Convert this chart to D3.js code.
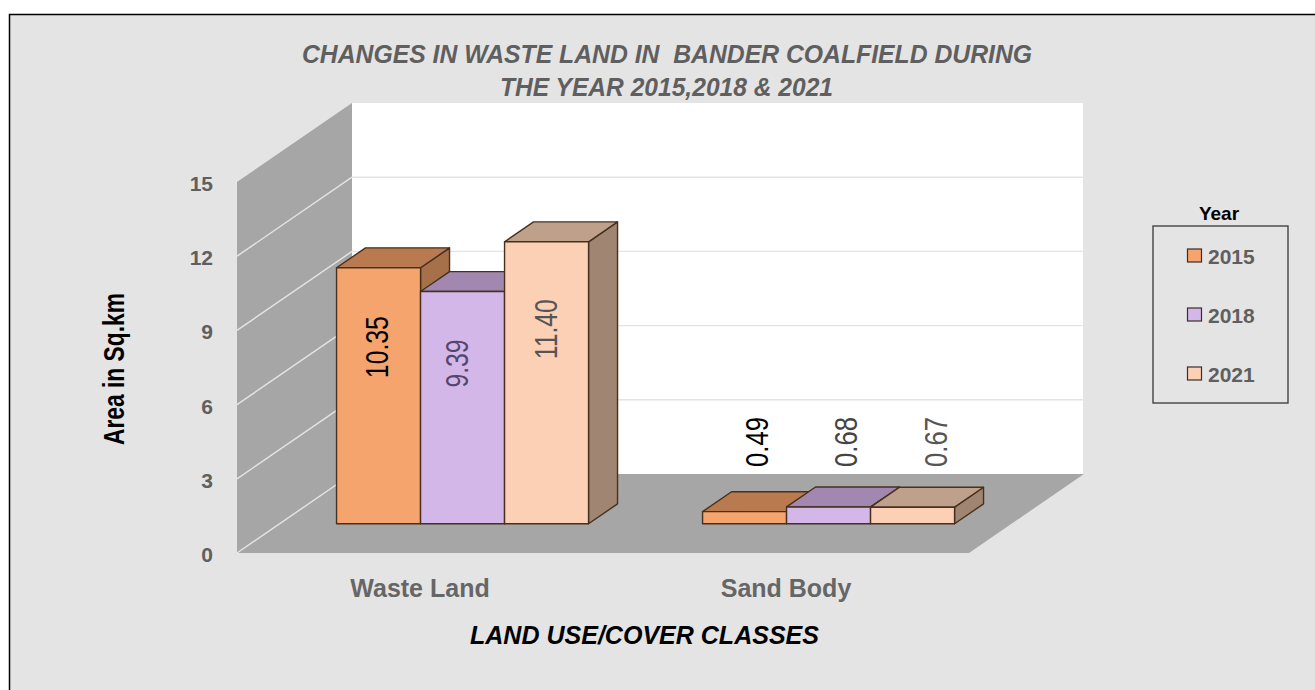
<!DOCTYPE html>
<html>
<head>
<meta charset="utf-8">
<script src="https://cdn.jsdelivr.net/npm/d3@7/dist/d3.min.js"></script>
<style>
html,body{margin:0;padding:0;background:#fff;overflow:hidden}
svg{display:block;font-family:"Liberation Sans",Arial,sans-serif}
text{white-space:pre}
</style>
</head>
<body>
<svg id="chart" width="1315" height="690"></svg>
<script>
const categories = ["Waste Land", "Sand Body"];
const years = ["2015", "2018", "2021"];
const values2015 = [10.35, 0.49];
const values2018 = [9.39, 0.68];
const values2021 = [11.40, 0.67];
const valueTicks = [0, 3, 6, 9, 12, 15];
const titleLines = ["CHANGES IN WASTE LAND IN  BANDER COALFIELD DURING", "THE YEAR 2015,2018 & 2021"];
const xTitle = "LAND USE/COVER CLASSES";
const yTitle = "Area in Sq.km";
const legendTitle = "Year";

const seriesValues = [values2015, values2018, values2021];
const faceColors = {
  front: ["#F4A46C", "#D3B7E8", "#FBD0B4"],
  top: ["#B87A4E", "#A288B0", "#BFA08A"],
  side: ["#A5704A", "#8F7A9F", "#A08672"]
};
const labelInk = [["#000", "#54466e", "#555"], ["#000", "#444", "#555"]];
const labelNudge = [[9, 5, 10], [23, 28, 34]];
const labelLen = [[62, 48, 60], [50, 50, 50]];

const svg = d3.select("#chart");
const depthX = 115, depthY = 79;
const barD0 = 0.37, barD1 = 0.622;

const x = d3.scaleBand().domain(categories).range([237, 969]);
const inner = d3.scaleBand().domain(years).range([57, 309]);
const y = d3.scaleLinear().domain([0, 15]).range([553, 182]);
const px = (xv, d) => xv + depthX * d;
const py = (v, d) => y(v) - depthY * d;
const poly = pts => pts.map(p => p.join(",")).join(" ");

// page
svg.append("rect").attr("width", 1315).attr("height", 690).attr("fill", "#fff");
svg.append("rect").attr("x", 10).attr("y", 15).attr("width", 1305).attr("height", 675)
  .attr("fill", "#E5E4E4");
svg.append("path").attr("d", "M9.5,690V14.5H1315").attr("fill", "none").attr("stroke", "#000").attr("stroke-width", 1.5);

// walls and floor
const x0 = x.range()[0], x1 = x.range()[1];
svg.append("rect").attr("x", px(x0, 1)).attr("y", py(15, 1))
  .attr("width", x1 - x0 - 1 + 0).attr("height", py(0, 1) - py(15, 1)).attr("fill", "#fff");
svg.append("polygon").attr("fill", "#A6A6A6")
  .attr("points", poly([[px(x0, 0), py(15, 0)], [px(x0, 1), py(15, 1)], [px(x0, 1), py(0, 1)], [px(x0, 0), py(0, 0)]]));
svg.append("polygon").attr("fill", "#A6A6A6")
  .attr("points", poly([[px(x0, 0), py(0, 0)], [px(x1, 0), py(0, 0)], [px(x1, 1), py(0, 1)], [px(x0, 1), py(0, 1)]]));

// gridlines
const grid = svg.append("g").attr("fill", "none").attr("stroke", "#E4E4E4").attr("stroke-width", 1.4);
valueTicks.filter(v => v > 0 && v < 15).forEach(v => {
  grid.append("line").attr("x1", px(x0, 1)).attr("x2", px(x1, 1) - 1).attr("y1", py(v, 1)).attr("y2", py(v, 1));
});
valueTicks.filter(v => v < 15).forEach(v => {
  grid.append("line").attr("x1", px(x0, 0)).attr("x2", px(x0, 1)).attr("y1", py(v, 0)).attr("y2", py(v, 1));
});

// bars
categories.forEach((cat, c) => {
  years.forEach((yr, s) => {
    const v = seriesValues[s][c];
    const bx0 = x(cat) + inner(yr), bx1 = bx0 + inner.bandwidth();
    const g = svg.append("g").attr("stroke", "#46301F").attr("stroke-width", 1.4).attr("stroke-linejoin", "round");
    g.append("polygon").attr("fill", faceColors.side[s]).attr("points", poly([
      [px(bx1, barD0), py(v, barD0)], [px(bx1, barD1), py(v, barD1)],
      [px(bx1, barD1), py(0, barD1)], [px(bx1, barD0), py(0, barD0)]]));
    g.append("polygon").attr("fill", faceColors.top[s]).attr("points", poly([
      [px(bx0, barD0), py(v, barD0)], [px(bx1, barD0), py(v, barD0)],
      [px(bx1, barD1), py(v, barD1)], [px(bx0, barD1), py(v, barD1)]]));
    g.append("rect").attr("fill", faceColors.front[s])
      .attr("x", px(bx0, barD0)).attr("y", py(v, barD0))
      .attr("width", inner.bandwidth()).attr("height", y(0) - y(v));
  });
});

// data labels
categories.forEach((cat, c) => {
  years.forEach((yr, s) => {
    const v = seriesValues[s][c];
    const cx = px(x(cat) + inner(yr) + inner.bandwidth() / 2, barD0) + labelNudge[c][s];
    const cy = c === 0 ? py(v * 0.69, barD0) : 442;
    svg.append("text").attr("transform", `translate(${cx},${cy}) rotate(-90)`)
      .attr("text-anchor", "middle").attr("font-size", 32).attr("fill", labelInk[c][s])
      .attr("textLength", labelLen[c][s]).attr("lengthAdjust", "spacingAndGlyphs")
      .text(v.toFixed(2));
  });
});

// axes (labels only)
const axisL = svg.append("g").attr("transform", "translate(221,0)")
  .call(d3.axisLeft(y).tickValues(valueTicks).tickSize(0).tickPadding(8));
axisL.select(".domain").remove();
axisL.selectAll("text").attr("font-family", "Liberation Sans").attr("font-size", 21).attr("font-weight", "bold")
  .attr("fill", "#5F5F5F").attr("dy", "0.4em");

const axisB = svg.append("g").attr("transform", "translate(0,575)")
  .call(d3.axisBottom(x).tickSize(0).tickPadding(0));
axisB.select(".domain").remove();
axisB.selectAll("text").attr("font-family", "Liberation Sans").attr("font-size", 25).attr("font-weight", "bold")
  .attr("fill", "#666").attr("dy", "22").attr("y", 0);

// titles
const titleX = [[302, 730, 63], [500, 333, 96]];
titleLines.forEach((t, i) => {
  svg.append("text").attr("x", titleX[i][0]).attr("y", titleX[i][2])
    .attr("font-size", 25).attr("font-weight", "bold").attr("font-style", "italic").attr("fill", "#5F5F5F")
    .attr("textLength", titleX[i][1]).attr("lengthAdjust", "spacingAndGlyphs").text(t);
});
svg.append("text").attr("x", 470).attr("y", 644)
  .attr("font-size", 25).attr("font-weight", "bold").attr("font-style", "italic").attr("fill", "#000")
  .attr("textLength", 349).attr("lengthAdjust", "spacingAndGlyphs").text(xTitle);
svg.append("text").attr("transform", "translate(124,369) rotate(-90)").attr("text-anchor", "middle")
  .attr("font-size", 30).attr("font-weight", "bold").attr("fill", "#000")
  .attr("textLength", 152).attr("lengthAdjust", "spacingAndGlyphs").text(yTitle);

// legend
svg.append("text").attr("x", 1219).attr("y", 220).attr("text-anchor", "middle")
  .attr("font-size", 19).attr("font-weight", "bold").attr("fill", "#000").text(legendTitle);
svg.append("rect").attr("x", 1153).attr("y", 226).attr("width", 135).attr("height", 177)
  .attr("fill", "none").attr("stroke", "#444").attr("stroke-width", 1.4);
const legendY = d3.scalePoint().domain(years).range([256, 374]);
years.forEach((yr, s) => {
  svg.append("rect").attr("x", 1187.5).attr("y", legendY(yr) - 7).attr("width", 14).attr("height", 13)
    .attr("fill", faceColors.front[s]).attr("stroke", "#3d2c2c").attr("stroke-width", 1.2);
  svg.append("text").attr("x", 1208).attr("y", legendY(yr) + 8)
    .attr("font-size", 21).attr("font-weight", "bold").attr("fill", "#5F5F5F").text(yr);
});
</script>
</body>
</html>
